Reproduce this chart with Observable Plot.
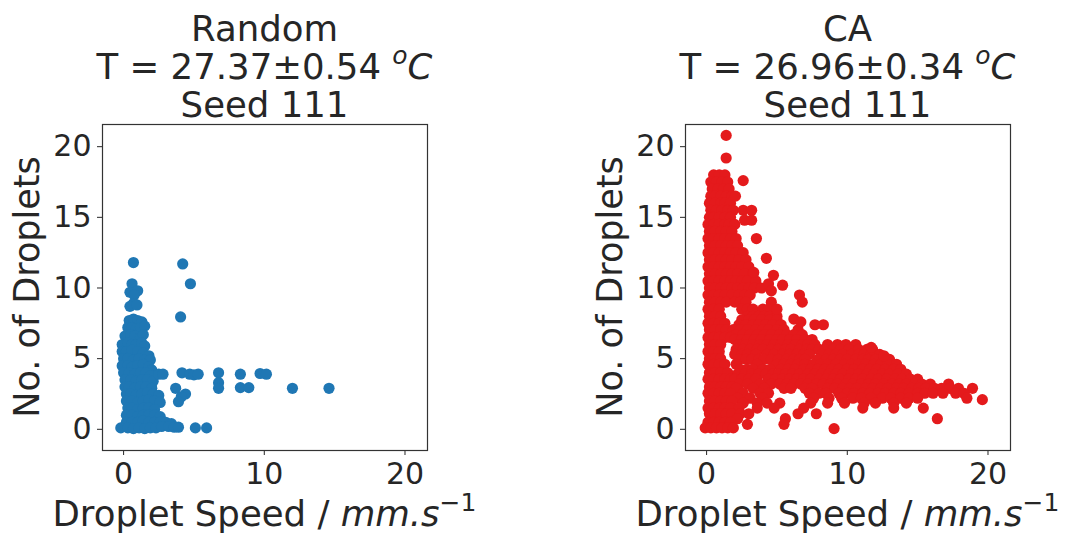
<!DOCTYPE html>
<html>
<head>
<meta charset="utf-8">
<script src="https://cdn.jsdelivr.net/npm/d3@7"></script>
<script src="https://cdn.jsdelivr.net/npm/@observablehq/plot@0.6"></script>
<style>
  html, body { margin: 0; padding: 0; background: #fff; }
  #root { position: relative; width: 1067px; height: 536px; overflow: hidden; font-family: "DejaVu Sans", sans-serif; color: #262626; }
  .panel { position: absolute; top: 0; }
  .title { position: absolute; top: 10px; transform: translateX(-50%); text-align: center; font-size: 35.5px; line-height: 38px; white-space: nowrap; }
  .xlab { position: absolute; top: 495px; transform: translateX(-50%); font-size: 35.5px; line-height: 38px; white-space: nowrap; }
  .ylab { position: absolute; transform: translate(-50%, -50%) rotate(-90deg); font-size: 35px; line-height: 38px; white-space: nowrap; }
  sup { font-size: 25px; line-height: 0; vertical-align: 0; position: relative; top: -15px; }
</style>
</head>
<body>
<div id="root"></div>
<script>
// ---- data ----
const panelTitles = ["Random", "CA"];
const panelTemps = ["27.37±0.54", "26.96±0.34"];
const panelSeeds = ["Seed 111", "Seed 111"];
const xTicks = [0, 10, 20];
const yTicks = [0, 5, 10, 15, 20];

// Random: [droplet speed, no. of droplets]
const randomPoints = [
 [0.7,11.8],[4.2,11.7],[4.75,10.3],[4.05,7.95],
 [0.6,10.3],[0.45,9.7],[1.0,9.8],[0.75,9.5],[0.7,8.9],[0.45,8.7],[0.95,8.8],
 [0.4,7.7],[0.7,7.8],[1.0,7.7],[1.3,7.6],
 [0.3,7.2],[0.6,7.2],[0.9,7.1],[1.2,7.2],[1.5,7.3],
 [0.1,6.6],[0.5,6.7],[0.8,6.6],[1.2,6.5],[1.4,6.7],
 [-0.1,6.0],[0.3,6.1],[0.6,6.0],[0.9,6.0],[1.3,6.1],[1.5,5.9],
 [-0.1,5.5],[0.2,5.5],[0.6,5.6],[1.0,5.5],[1.4,5.4],[1.8,5.2],
 [0.0,5.0],[0.3,5.0],[0.7,4.9],[1.1,5.0],[1.5,4.9],[1.9,4.9],
 [-0.1,4.5],[0.3,4.5],[0.6,4.4],[1.0,4.5],[1.4,4.6],[1.8,4.4],[2.0,4.2],
 [0.0,4.0],[0.4,4.0],[0.8,3.9],[1.2,4.0],[1.6,4.0],[1.9,3.8],
 [0.1,3.5],[0.5,3.5],[0.9,3.4],[1.3,3.5],[1.7,3.5],[2.1,3.4],
 [0.1,3.0],[0.4,3.0],[0.8,2.9],[1.2,3.0],[1.6,3.0],[2.0,2.9],
 [0.2,2.5],[0.5,2.5],[0.9,2.4],[1.3,2.5],[1.7,2.6],[2.1,2.5],[2.5,2.4],
 [0.2,2.0],[0.6,2.0],[1.0,1.9],[1.4,2.0],[1.8,2.1],[2.2,2.0],[2.6,1.9],
 [0.3,1.5],[0.6,1.5],[1.0,1.4],[1.4,1.5],[1.8,1.5],[2.2,1.4],
 [0.2,1.0],[0.6,1.0],[1.0,0.9],[1.4,1.0],[1.8,1.0],[2.2,1.0],[2.6,0.9],
 [0.2,0.5],[0.6,0.5],[1.0,0.5],[1.4,0.6],[1.8,0.5],[2.2,0.5],[2.6,0.5],[3.0,0.5],[3.4,0.4],
 [-0.2,0.1],[0.3,0.1],[0.7,0.05],[1.1,0.1],[1.5,0.05],[1.9,0.1],[2.3,0.1],[2.7,0.2],[3.2,0.2],[3.6,0.15],[3.9,0.15],
 [2.5,3.9],[2.8,3.9],[4.15,4.0],[4.7,3.9],[5.0,3.85],[5.3,3.9],[6.75,4.0],[8.3,3.9],[9.7,3.95],[10.15,3.9],
 [3.7,2.9],[6.75,3.3],[6.75,2.9],[8.3,2.95],[8.9,2.95],[12.0,2.9],[14.6,2.9],
 [4.4,2.5],[4.1,2.3],[3.9,1.95],
 [5.1,0.1],[5.9,0.1]
];

// CA: rows of [no. of droplets, droplet speeds]
const caRows = [
 [18.0,[0.5,0.9,1.3]],
 [17.5,[0.3,0.7,1.1,1.5]],
 [17.0,[0.4,0.8,1.2,1.6]],
 [16.5,[0.3,0.6,1.0,1.4,1.8]],
 [16.0,[0.2,0.6,1.0,1.3,1.7]],
 [15.5,[0.3,0.7,1.1,1.5,1.9]],
 [15.0,[0.2,0.5,0.9,1.3,1.7]],
 [14.5,[0.1,0.5,0.9,1.3,1.6,2.0]],
 [14.0,[0.2,0.6,1.0,1.4,1.8]],
 [13.5,[0.1,0.5,0.9,1.3,1.7,2.1]],
 [13.0,[0.2,0.6,1.0,1.4,1.8,2.2]],
 [12.5,[0.1,0.5,0.9,1.3,1.7,2.1,2.6]],
 [12.0,[0.2,0.6,1.0,1.4,1.8,2.3,2.8]],
 [11.5,[0.1,0.5,0.9,1.3,1.7,2.1,2.5,3.0]],
 [11.0,[0.2,0.6,1.0,1.4,1.8,2.2,2.7,3.3]],
 [10.5,[0.1,0.5,0.9,1.3,1.7,2.1,2.5,2.9,3.5]],
 [10.0,[0.2,0.6,1.0,1.4,1.8,2.2,2.6,3.0,3.4,3.9]],
 [9.5,[0.1,0.5,0.9,1.3,1.8,2.3,2.7,3.1]],
 [9.0,[0.2,0.6,1.0,1.4,2.0,2.4,2.8,4.6]],
 [8.5,[0.1,0.5,0.9,2.5,2.9,3.3,4.0,4.4]],
 [8.0,[0.2,0.6,1.0,2.9,3.3,3.7,4.1,4.5,5.0]],
 [7.75,[2.5,3.0,3.4,3.9,4.5,5.0]],
 [7.5,[0.1,0.5,0.9,1.3]],
 [7.4,[2.3,2.8,3.3,3.7,4.2,4.7,5.3,7.7,8.3]],
 [7.05,[0.2,0.6,1.0,1.4,1.9,2.4,2.9,3.5,4.0,4.4,5.0,5.5,6.5]],
 [6.7,[2.1,2.6,3.1,3.6,4.1,4.6,5.2,5.7,6.2,6.8]],
 [6.5,[0.1,0.5,0.9,1.3,1.7]],
 [6.35,[2.0,2.5,2.9,3.4,3.9,4.5,5.0,5.4,5.9,6.4,7.0,7.5]],
 [6.0,[0.2,0.6,1.0,2.3,2.8,3.3,3.8,4.3,4.8,5.3,5.8,6.3,6.8,7.2,7.7,8.6,9.3,9.9,10.6]],
 [5.65,[2.1,2.6,3.1,3.6,4.0,4.6,5.1,5.6,6.0,6.6,7.1,7.5,8.0,8.4,9.0,9.5,10.1,10.8,11.4,11.8]],
 [5.5,[0.1,0.5,0.9]],
 [5.3,[2.0,2.5,2.9,3.5,4.3,4.8,5.4,5.9,6.4,6.9,7.3,8.2,8.7,9.2,9.7,10.3,10.8,11.2,11.7,12.3]],
 [5.0,[0.2,0.6,1.0]],
 [4.95,[2.3,2.8,3.2,3.7,4.1,4.6,5.1,5.7,6.2,6.6,7.0,7.9,8.5,9.0,9.5,10.0,10.6,11.1,11.5,12.0,12.6,13.0]],
 [4.6,[0.1,0.5,0.9,1.3,2.1,3.6,5.0,5.5,6.0,6.5,7.0,7.6,8.1,8.6,9.2,9.8,10.3,10.8,11.3,11.9,12.4,12.9,13.5]],
 [4.25,[2.4,2.9,3.3,4.0,4.5,5.3,5.8,6.3,6.9,7.4,7.9,8.4,8.9,9.4,10.0,10.5,11.1,11.6,12.1,12.7,13.3,13.8]],
 [4.0,[0.2,0.6,1.0,1.5]],
 [3.9,[2.2,2.7,3.2,3.7,4.2,4.7,5.1,5.6,6.1,6.6,7.2,7.7,8.2,8.7,9.2,9.7,10.3,10.8,11.4,11.9,12.5,13.0,13.6,14.2]],
 [3.55,[0.1,0.5,0.9,1.3,1.7,2.0,2.5,3.0,3.5,4.4,4.9,5.4,5.9,6.4,6.9,7.4,8.0,8.5,9.0,9.5,10.1,10.6,11.1,11.7,12.2,12.8,13.4,13.9,14.5,15.0]],
 [3.2,[2.3,2.9,3.8,4.6,5.2,5.7,6.2,6.7,7.2,7.8,8.3,8.8,9.3,9.9,10.4,11.0,11.5,12.0,12.6,13.2,13.7,14.2,14.8,15.3,15.9,17.2]],
 [3.0,[0.2,0.6,1.0,1.4,1.8]],
 [2.9,[2.1,3.3,4.1,5.5,6.0,7.0,7.5,8.6,9.1,9.7,10.2,10.7,11.3,11.8,12.4,12.9,13.5,14.0,14.6,15.1,15.6,16.2,16.7,17.3,17.9,18.9]],
 [2.55,[0.1,0.5,0.9,1.3,1.7,2.6,3.8,4.4,7.3,8.0,8.5,9.4,10.0,10.5,11.1,11.6,12.2,12.7,13.3,13.8,14.4,15.0,15.5,16.1,16.8,17.7,18.3]],
 [2.2,[2.2,3.1,4.0,7.6,8.7,9.6,10.4,11.0,11.7,12.5,13.1,13.8,14.4,15.0,18.5]],
 [2.1,[19.6]],
 [2.0,[0.2,0.6,1.0,1.4,1.8]],
 [1.85,[2.6,3.6,4.3,5.2,7.4,8.6,9.8,11.2,12.0,13.3,14.2]],
 [1.5,[0.1,0.5,0.9,1.3,1.7,2.3,3.6,4.8,6.9,11.1,13.3,15.4]],
 [1.1,[0.2,0.6,1.0,1.4,1.8,2.4,3.0,6.5,7.8]],
 [0.75,[2.2,5.6,16.4]],
 [0.5,[0.1,0.5,0.9,1.3,1.7]],
 [0.35,[2.9,5.5]],
 [0.1,[-0.1,0.3,0.7,1.1,1.5,1.9]],
 [0.05,[9.06]]
];
// CA: isolated points [droplet speed, no. of droplets]
const caExtra = [
 [1.39,20.8],[1.39,19.2],[2.6,17.6],[2.05,16.5],[2.6,15.5],[3.2,15.5],[2.7,14.8],[3.2,14.8],
 [3.54,13.5],[4.25,12.1],[3.35,11.1],[4.75,10.9],[5.4,10.2],[4.4,10.3],[4.6,9.8],
 [6.6,9.5],[6.8,9.0],[6.2,7.8],[6.7,7.6],[5.0,8.5],
 [11.7,5.8],[12.6,5.2]
];

// ---- build ----
const caPoints = caRows.flatMap(([y, xs]) => xs.map(x => [x, y])).concat(caExtra);

const panels = [
  {points: randomPoints, color: "#1f77b4", left: 0},
  {points: caPoints, color: "#e41a1c", left: 583}
];

const root = document.getElementById("root");
const frameL = 102, frameR = 427, frameT = 124, frameB = 450;

panels.forEach((p, i) => {
  const chart = Plot.plot({
    width: 457,
    height: 536,
    marginLeft: frameL,
    marginRight: 457 - frameR,
    marginTop: frameT,
    marginBottom: 536 - frameB,
    style: {fontFamily: "DejaVu Sans", fontSize: "30px", color: "#262626", background: "transparent"},
    x: {domain: [-1.5, 21.6], ticks: xTicks, tickSize: 5, tickPadding: 7, label: null},
    y: {domain: [-1.5, 21.57], ticks: yTicks, tickSize: 5, tickPadding: 6, label: null},
    marks: [
      Plot.dot(p.points, {x: d => d[0], y: d => d[1], r: 5.6, fill: p.color}),
      Plot.frame({stroke: "#333", strokeWidth: 1.2})
    ]
  });
  const wrap = document.createElement("div");
  wrap.className = "panel";
  wrap.style.left = p.left + "px";
  wrap.appendChild(chart);
  root.appendChild(wrap);

  const cx = p.left + (frameL + frameR) / 2;
  const t = document.createElement("div");
  t.className = "title";
  t.style.left = cx + "px";
  t.innerHTML = `${panelTitles[i]}<br>T = ${panelTemps[i]} <i><sup>o</sup>C</i><br>${panelSeeds[i]}`;
  root.appendChild(t);

  const xl = document.createElement("div");
  xl.className = "xlab";
  xl.style.left = cx + "px";
  xl.innerHTML = `Droplet Speed / <i>mm.s</i><sup>−1</sup>`;
  root.appendChild(xl);

  const yl = document.createElement("div");
  yl.className = "ylab";
  yl.style.left = (p.left + 27) + "px";
  yl.style.top = "287px";
  yl.textContent = "No. of Droplets";
  root.appendChild(yl);
});
</script>
</body>
</html>
